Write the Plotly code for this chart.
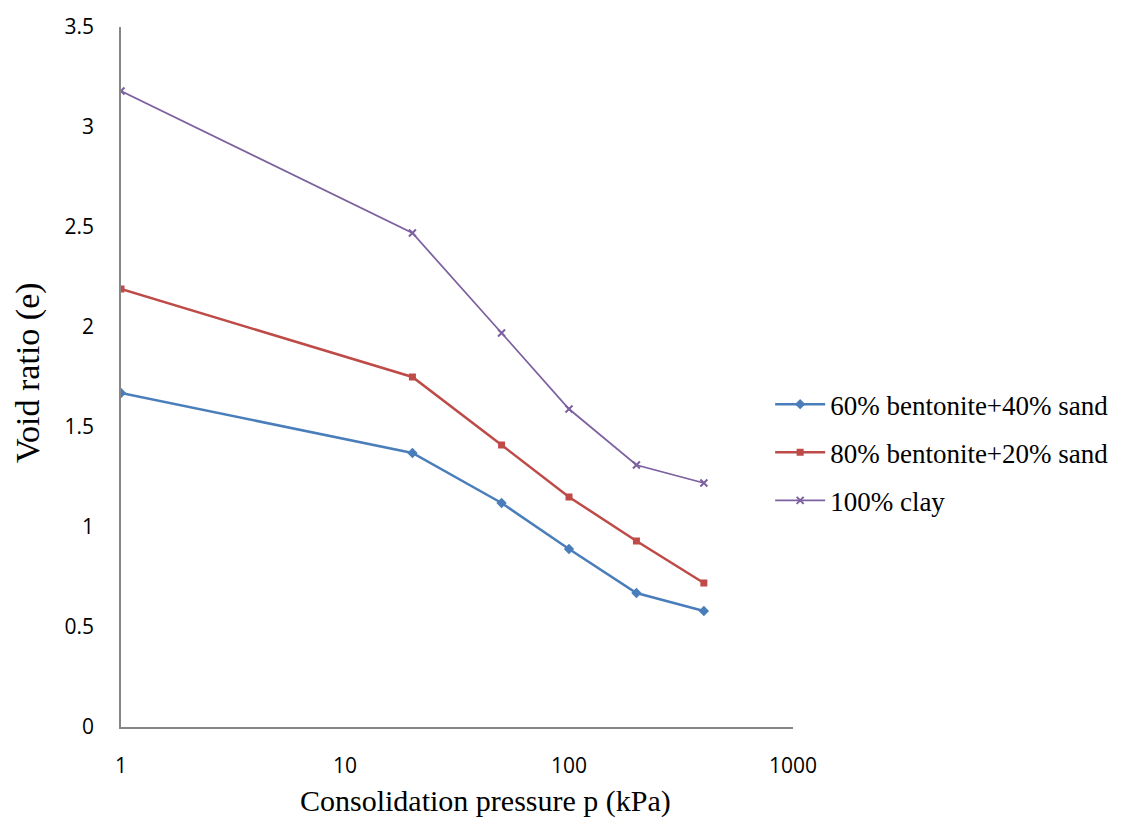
import plotly.graph_objects as go

pressure = [1, 20, 50, 100, 200, 400]
s1_name = "60% bentonite+40% sand"
s2_name = "80% bentonite+20% sand"
s3_name = "100% clay"
s1 = [1.67, 1.37, 1.12, 0.89, 0.67, 0.58]
s2 = [2.19, 1.75, 1.41, 1.15, 0.93, 0.72]
s3 = [3.18, 2.47, 1.97, 1.59, 1.31, 1.22]
x_ticks = [1, 10, 100, 1000]
y_ticks = [0, 0.5, 1, 1.5, 2, 2.5, 3, 3.5]
x_title = "Consolidation pressure p (kPa)"
y_title = "Void ratio (e)"

fig = go.Figure()
fig.add_trace(go.Scatter(x=pressure, y=s1, name=s1_name, mode="lines+markers",
                         line=dict(color="#4A7EBB", width=2.5),
                         marker=dict(symbol="diamond", size=8, color="#4A7EBB"),
                         legendgroup="a"))
fig.add_trace(go.Scatter(x=pressure, y=s2, name=s2_name, mode="lines+markers",
                         line=dict(color="#BE4B48", width=2.5),
                         marker=dict(symbol="square", size=7, color="#BE4B48"),
                         legendgroup="b"))
fig.add_trace(go.Scatter(x=pressure, y=s3, name=s3_name, mode="lines+markers",
                         line=dict(color="#7D60A0", width=1.75),
                         marker=dict(symbol="x-thin", size=7, color="#7D60A0",
                                     line=dict(color="#7D60A0", width=2)),
                         legendgroup="c"))

axis_font = dict(family="Open Sans, Liberation Sans, sans-serif", size=21, color="#000")
serif = "Liberation Serif, Times New Roman, serif"

fig.update_layout(
    width=1128, height=821,
    margin=dict(l=121, r=335, t=25, b=94),
    paper_bgcolor="white", plot_bgcolor="white",
    showlegend=True,
    legend=dict(x=0.966, xanchor="left", y=0.392, yanchor="middle",
                font=dict(family=serif, size=27, color="#000"),
                tracegroupgap=10, itemwidth=50, bgcolor="rgba(0,0,0,0)"),
    xaxis=dict(type="log", range=[0, 3], tickvals=x_ticks, ticktext=[str(v) for v in x_ticks],
               showgrid=False, zeroline=False, showline=True, linecolor="#868686", linewidth=1.5,
               ticks="", tickfont=axis_font, ticklabelstandoff=19),
    yaxis=dict(range=[0, 3.5], tickvals=y_ticks, ticktext=[f"{v:g}" for v in y_ticks],
               showgrid=False, zeroline=False, showline=True, linecolor="#868686", linewidth=1.5,
               ticks="", tickfont=axis_font, ticklabelstandoff=21),
    annotations=[
        dict(text=x_title, xref="paper", yref="paper", x=0.5417, y=-0.1054,
             xanchor="center", yanchor="middle", showarrow=False,
             font=dict(family=serif, size=30, color="#000")),
        dict(text=y_title, xref="paper", yref="paper", x=-0.1384, y=0.507,
             xanchor="center", yanchor="middle", showarrow=False, textangle=-90,
             font=dict(family=serif, size=34, color="#000")),
    ],
)

fig.write_html("out.html")
